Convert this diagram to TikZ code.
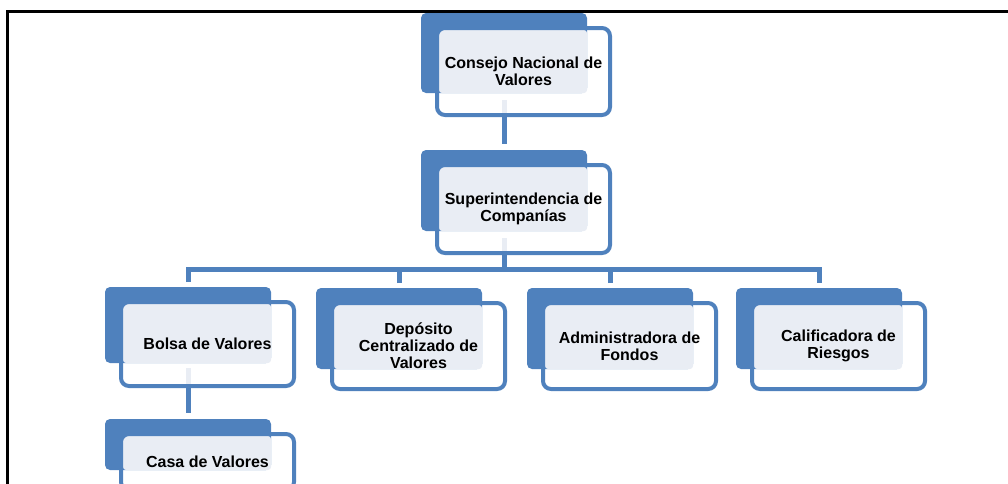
\documentclass[tikz,border=0pt]{standalone}
\usepackage{fontspec}
\setmainfont{Liberation Sans}
\usetikzlibrary{positioning}
\definecolor{orgblue}{HTML}{4F81BD}
\definecolor{orglight}{HTML}{E9EDF4}

\begin{document}
\begin{tikzpicture}[
    x=1pt, y=-1pt,
    backbox/.style={fill=orgblue, rounded corners=5pt, inner sep=0pt, outer sep=0pt,
      anchor=north west, minimum width=166pt},
    frontbox/.style={draw=orgblue, line width=4pt, rounded corners=8pt, inner sep=0pt,
      outer sep=0pt, minimum width=173pt},
    lightbox/.style={fill=orglight, rounded corners=3pt},
    stubline/.style={draw=orglight, line width=5pt},
    linkline/.style={draw=orgblue, line width=5pt},
    textbox/.style={font=\bfseries\fontsize{16}{17}\selectfont, align=center, inner sep=0pt}
  ]
  \useasboundingbox (0,0) rectangle (1008,483);
  \clip (0,0) rectangle (1008,483);

  % frame
  \draw[line width=3pt] (7.5,495) -- (7.5,11) -- (1015,11);

  % Consejo Nacional de Valores
  \node[backbox, minimum height=80pt] (cnvB) at (421,13) {};
  \fill[lightbox] ([xshift=18pt,yshift=-17pt]cnvB.north west) rectangle (cnvB.south east);
  \node[frontbox, minimum height=87pt, below right=15pt and 16pt of cnvB.north west] (cnv) {};
  \draw[stubline] ([yshift=-7pt]cnvB.south) -- ([yshift=2pt]cnv.south -| cnvB.south);
  \node[textbox] at (cnv.center) {Consejo Nacional de\\Valores};

  % Superintendencia de Companias
  \node[backbox, minimum height=81pt] (supB) at (421,150) {};
  \fill[lightbox] ([xshift=18pt,yshift=-17pt]supB.north west) rectangle (supB.south east);
  \node[frontbox, minimum height=88pt, below right=15pt and 16pt of supB.north west] (sup) {};
  \draw[stubline] ([yshift=-7pt]supB.south) -- ([yshift=2pt]sup.south -| supB.south);
  \node[textbox] at (sup.center) {Superintendencia de\\Companías};

  % Bolsa de Valores
  \node[backbox, minimum height=76pt] (bolB) at (105,287) {};
  \fill[lightbox] ([xshift=18pt,yshift=-17pt]bolB.north west) rectangle (bolB.south east);
  \node[frontbox, minimum height=84pt, below right=15pt and 16pt of bolB.north west] (bol) {};
  \draw[stubline] ([yshift=-5pt]bolB.south) -- ([yshift=2pt]bol.south -| bolB.south);
  \node[textbox] at (bol.center) {Bolsa de Valores};

  % Deposito Centralizado de Valores
  \node[backbox, minimum height=81pt] (depB) at (316,288) {};
  \fill[lightbox] ([xshift=18pt,yshift=-17pt]depB.north west) rectangle (depB.south east);
  \node[frontbox, minimum height=86pt, below right=15pt and 16pt of depB.north west] (dep) {};
  \node[textbox] at (dep.center) {Depósito\\Centralizado de\\Valores};

  % Administradora de Fondos
  \node[backbox, minimum height=81pt] (admB) at (527,288) {};
  \fill[lightbox] ([xshift=18pt,yshift=-17pt]admB.north west) rectangle (admB.south east);
  \node[frontbox, minimum height=86pt, below right=15pt and 16pt of admB.north west] (adm) {};
  \node[textbox] at (adm.center) {Administradora de\\Fondos};

  % Calificadora de Riesgos
  \node[backbox, minimum height=81pt] (calB) at (736,288) {};
  \fill[lightbox] ([xshift=18pt,yshift=-17pt]calB.north west) rectangle (calB.south east);
  \node[frontbox, minimum height=86pt, below right=15pt and 16pt of calB.north west] (cal) {};
  \node[textbox] at (cal.center) {Calificadora de\\Riesgos};

  % Casa de Valores
  \node[backbox, minimum height=51pt] (casB) at (105,419) {};
  \fill[lightbox] ([xshift=18pt,yshift=-17pt]casB.north west) rectangle (casB.south east);
  \node[frontbox, minimum height=56pt, below right=15pt and 16pt of casB.north west] (cas) {};
  \node[textbox] at (cas.center) {Casa de Valores};

  % connectors
  \coordinate (bus) at (504,269);
  \draw[linkline] (cnv.south -| cnvB.south) -- ([yshift=6pt]supB.north);
  \draw[linkline] (sup.south -| supB.south) -- (bus);
  \draw[linkline] ([yshift=5pt]bolB.north) |- (bus -| calB.north)
    -- ([yshift=5pt]calB.north);
  \draw[linkline] ([yshift=5pt]depB.north) -- (bus -| depB.north);
  \draw[linkline] ([yshift=5pt]admB.north) -- (bus -| admB.north);
  \draw[linkline] (bol.south -| bolB.south) -- ([yshift=6pt]casB.north);
\end{tikzpicture}
\end{document}
